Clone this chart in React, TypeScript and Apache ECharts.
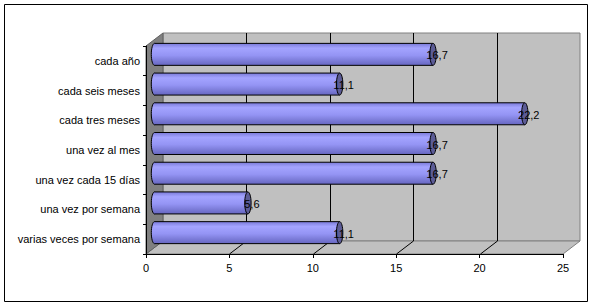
import React, { useEffect, useRef } from "react";
import * as echarts from "echarts";

const categories = [
  "varias veces por semana",
  "una vez por semana",
  "una vez cada 15 días",
  "una vez al mes",
  "cada tres meses",
  "cada seis meses",
  "cada año",
];
const values = [11.1, 5.6, 16.7, 16.7, 22.2, 11.1, 16.7];
const gridTicks = [5, 10, 15, 20];
const axisMin = 0;
const axisMax = 25;
const axisStep = 5;

const DX = 17;
const DY = -13;

export default function App() {
  const ref = useRef<HTMLDivElement>(null);
  useEffect(() => {
    document.body.style.margin = "0";
    const chart = echarts.init(ref.current!, null, { renderer: "svg" });
    const font = "Arial, 'Liberation Sans', sans-serif";

    const wallsRender = (params: any, api: any) => {
      const cs = params.coordSys;
      const l = cs.x, t = cs.y, r = cs.x + cs.width, b = cs.y + cs.height;
      const children: any[] = [];
      children.push({
        type: "polygon",
        shape: { points: [[l + DX, t + DY], [r + DX, t + DY], [r + DX, b + DY], [l + DX, b + DY]] },
        style: { fill: "#c0c0c0", stroke: "#808080", lineWidth: 1 },
      });
      children.push({
        type: "polygon",
        shape: { points: [[l, b], [r, b], [r + DX, b + DY], [l + DX, b + DY]] },
        style: { fill: "#c0c0c0", stroke: "#808080", lineWidth: 1 },
      });
      children.push({
        type: "polygon",
        shape: { points: [[l, t], [l + DX, t + DY], [l + DX, b + DY], [l, b]] },
        style: { fill: "#808080", stroke: "#606060", lineWidth: 1 },
      });
      gridTicks.forEach((tv) => {
        const x = Math.round(api.coord([tv, 0])[0]) + 0.5;
        children.push({
          type: "line",
          shape: { x1: x + DX, y1: t + DY, x2: x + DX, y2: b + DY },
          style: { stroke: "#000", lineWidth: 1 },
        });
        children.push({
          type: "line",
          shape: { x1: x, y1: b, x2: x + DX, y2: b + DY },
          style: { stroke: "#000", lineWidth: 1 },
        });
      });
      return { type: "group", children };
    };

    const barsRender = (params: any, api: any) => {
      const v = api.value(0);
      const c = api.value(1);
      const p0 = api.coord([0, c]);
      const p1 = api.coord([v, c]);
      const bh = api.size([0, 1])[1] * 0.74;
      const xs = p0[0] + DX / 2;
      const xe = p1[0] + DX / 2;
      const cy = p0[1] + DY / 2;
      const y0 = cy - bh / 2;
      const y1 = cy + bh / 2;
      const rx = 3.2;
      const grad = () =>
        new echarts.graphic.LinearGradient(0, 0, 0, 1, [
          { offset: 0, color: "#7a7ad8" },
          { offset: 0.22, color: "#a4a4ff" },
          { offset: 0.55, color: "#9494f4" },
          { offset: 1, color: "#6666c0" },
        ]);
      const label = String(v).replace(".", ",");
      return {
        type: "group",
        children: [
          {
            type: "ellipse",
            shape: { cx: xs, cy, rx, ry: bh / 2 },
            style: { fill: grad(), stroke: "#000", lineWidth: 1 },
          },
          {
            type: "rect",
            shape: { x: xs, y: y0, width: xe - xs, height: bh },
            style: { fill: grad(), lineWidth: 0 },
          },
          {
            type: "line",
            shape: { x1: xs, y1: y0, x2: xe, y2: y0 },
            style: { stroke: "#000", lineWidth: 1 },
          },
          {
            type: "line",
            shape: { x1: xs, y1: y1, x2: xe, y2: y1 },
            style: { stroke: "#000", lineWidth: 1 },
          },
          {
            type: "ellipse",
            shape: { cx: xe, cy, rx, ry: bh / 2 },
            style: { fill: "#5c5c96", stroke: "#000", lineWidth: 1 },
          },
          {
            type: "text",
            style: {
              text: label,
              x: xe + 4,
              y: cy + 1,
              align: "center",
              verticalAlign: "middle",
              fill: "#000",
              font: `11px ${font}`,
            },
          },
        ],
      };
    };

    chart.setOption({
      animation: false,
      backgroundColor: "#ffffff",
      grid: { left: 146, right: 30, top: 46, bottom: 52, containLabel: false },
      xAxis: {
        type: "value",
        min: axisMin,
        max: axisMax,
        interval: axisStep,
        axisLine: { show: true, lineStyle: { color: "#000", width: 1 } },
        axisTick: { show: true, length: 4, lineStyle: { color: "#000" } },
        axisLabel: { color: "#000", fontSize: 11, fontFamily: font, margin: 8 },
        splitLine: { show: false },
      },
      yAxis: {
        type: "category",
        data: categories,
        axisLine: { show: true, lineStyle: { color: "#000", width: 1 } },
        axisTick: { show: true, length: 3, lineStyle: { color: "#000" } },
        axisLabel: { color: "#000", fontSize: 11, fontFamily: font, margin: 6 },
        splitLine: { show: false },
      },
      graphic: [
        {
          type: "rect",
          shape: { x: 4.5, y: 4.5, width: 583, height: 297 },
          style: { fill: "none", stroke: "#000", lineWidth: 1 },
          silent: true,
        },
      ],
      series: [
        {
          type: "custom",
          z: -1,
          renderItem: wallsRender,
          data: [[0, 0]],
          silent: true,
        },
        {
          type: "custom",
          z: 3,
          renderItem: barsRender,
          encode: { x: 0, y: 1 },
          data: values.map((v, i) => [v, i]),
        },
      ],
    });
    return () => chart.dispose();
  }, []);
  return <div ref={ref} style={{ width: 593, height: 306 }} />;
}
